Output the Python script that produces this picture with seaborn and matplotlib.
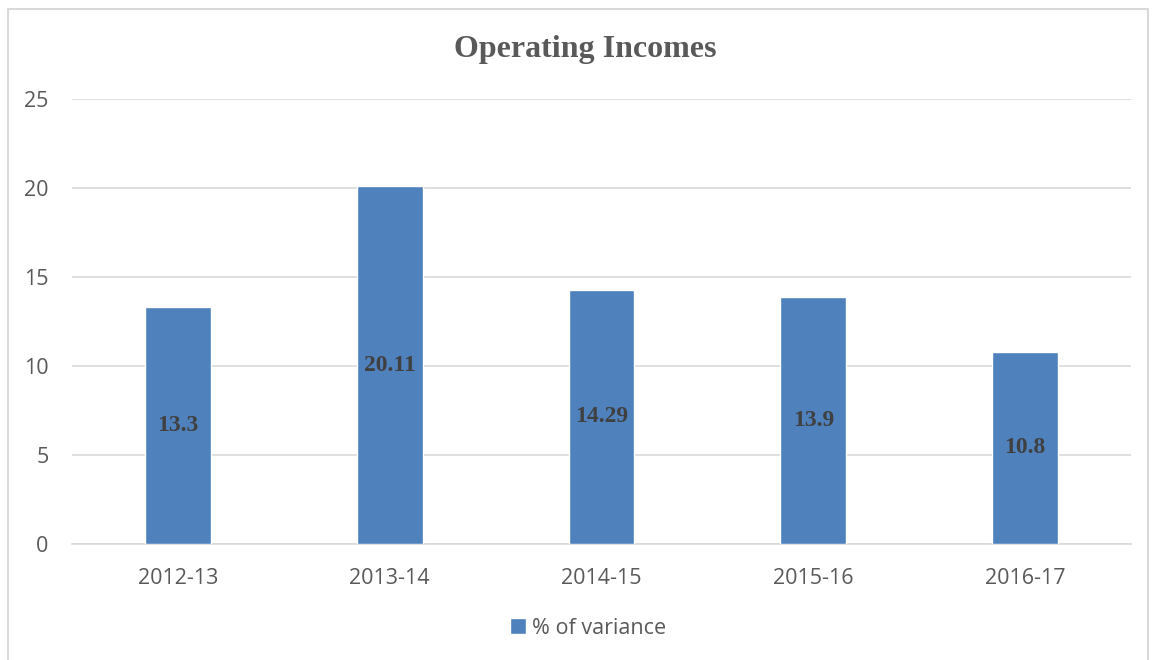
import matplotlib
matplotlib.use("Agg")
import matplotlib.pyplot as plt
from matplotlib.patches import Rectangle, Patch
import seaborn as sns
import pandas as pd

# Data
years = ["2012-13", "2013-14", "2014-15", "2015-16", "2016-17"]
variance = [13.3, 20.11, 14.29, 13.9, 10.8]
value_labels = ["13.3", "20.11", "14.29", "13.9", "10.8"]
series_name = "% of variance"
y_ticks = [0, 5, 10, 15, 20, 25]

BAR = "#4F81BD"
GRID = "#D9D9D9"
TICK = "#595959"
LABEL = "#404040"

sns.set_theme(style="white")
plt.rcParams["font.family"] = ["Open Sans", "DejaVu Sans"]

df = pd.DataFrame({"year": years, "value": variance})

fig = plt.figure(figsize=(11.53, 6.60), dpi=100)
ax = fig.add_axes([72 / 1153, 1 - 544 / 660, (1131 - 72) / 1153, (544 - 99) / 660])

sns.barplot(data=df, x="year", y="value", color=BAR, width=0.31,
            saturation=1, ax=ax, zorder=3)

ax.set_xlim(-0.5, len(years) - 0.5)
ax.set_ylim(0, 25)
ax.set_yticks(y_ticks)
ax.set_yticklabels([str(t) for t in y_ticks])
ax.yaxis.grid(True, color=GRID, linewidth=1.2, zorder=0)
ax.set_axisbelow(True)
for side in ["top", "right", "left"]:
    ax.spines[side].set_visible(False)
ax.spines["bottom"].set_color(GRID)
ax.spines["bottom"].set_linewidth(1.2)
ax.tick_params(axis="both", length=0, labelsize=15.5, labelcolor=TICK)
ax.tick_params(axis="y", pad=17)
ax.tick_params(axis="x", pad=17)
ax.set_xlabel("")
ax.set_ylabel("")

# Values centered inside each bar
for i, (v, lab) in enumerate(zip(variance, value_labels)):
    ax.text(i, v / 2, lab, ha="center", va="center", fontsize=17,
            fontweight="bold", color=LABEL, family="Liberation Serif", zorder=4)

fig.text(585 / 1153, 1 - 50 / 660, "Operating Incomes", ha="center", va="center",
         fontsize=23, fontweight="bold", color=TICK, family="Liberation Serif")

fig.legend(handles=[Patch(facecolor=BAR, label=series_name)], loc="center",
           bbox_to_anchor=(588 / 1153, 1 - 628 / 660), frameon=False,
           fontsize=15.5, labelcolor=TICK, handlelength=0.75, handleheight=0.75,
           handletextpad=0.3)

# Chart area border
fig.patches.append(Rectangle((8 / 1153, -0.01), (1148 - 8) / 1153, 1 - 9 / 660 + 0.01,
                             transform=fig.transFigure, fill=False,
                             edgecolor=GRID, linewidth=1.5))

fig.savefig("out.png", dpi=100)
